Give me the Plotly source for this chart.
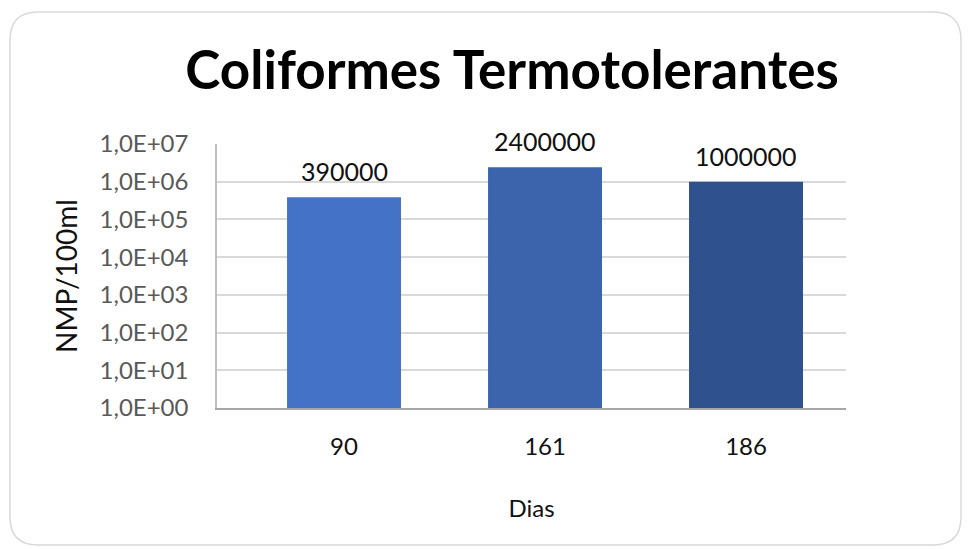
import math
import plotly.graph_objects as go

# ---- data ----
dias = ["90", "161", "186"]
nmp = [390000, 2400000, 1000000]
bar_colors = ["#4472C4", "#3B64AD", "#2F528F"]
y_tickvals = [1, 10, 100, 1000, 10000, 100000, 1000000, 10000000]
y_ticktext = ["1,0E+00", "1,0E+01", "1,0E+02", "1,0E+03",
              "1,0E+04", "1,0E+05", "1,0E+06", "1,0E+07"]

W, H = 968, 549
ML, MR, MT, MB = 217, 122, 144, 141
FONT = "Lato"

fig = go.Figure()
fig.add_trace(go.Bar(
    x=list(range(len(dias))), y=nmp,
    marker=dict(color=bar_colors, line=dict(width=0)),
    width=0.567,
    hoverinfo="skip",
))

# data labels above bars
annotations = [
    dict(x=i, y=math.log10(v), xref="x", yref="y", text=str(v),
         showarrow=False, yanchor="middle", yshift=26,
         font=dict(family=FONT, size=25, color="#111111"))
    for i, v in enumerate(nmp)
]

# rounded card border (pixel -> paper coords)
pw, ph = W - ML - MR, H - MT - MB
def px(x): return (x - ML) / pw
def py(y): return (H - MB - y) / ph
x0, x1, y0, y1, r = 10, 961, 12, 545, 28
path = (f"M {px(x0+r)},{py(y0)} L {px(x1-r)},{py(y0)} "
        f"Q {px(x1)},{py(y0)} {px(x1)},{py(y0+r)} "
        f"L {px(x1)},{py(y1-r)} Q {px(x1)},{py(y1)} {px(x1-r)},{py(y1)} "
        f"L {px(x0+r)},{py(y1)} Q {px(x0)},{py(y1)} {px(x0)},{py(y1-r)} "
        f"L {px(x0)},{py(y0+r)} Q {px(x0)},{py(y0)} {px(x0+r)},{py(y0)} Z")

fig.update_layout(
    width=W, height=H,
    margin=dict(l=ML, r=MR, t=MT, b=MB),
    paper_bgcolor="white", plot_bgcolor="white",
    showlegend=False,
    annotations=annotations,
    title=dict(text="<b>Coliformes Termotolerantes</b>", x=0.529, xanchor="center",
               y=0.872, yanchor="middle",
               font=dict(family=FONT, size=53, color="#000000")),
    shapes=[dict(type="path", path=path, xref="paper", yref="paper",
                 line=dict(color="#D9D9D9", width=1.5), layer="below")],
    xaxis=dict(
        tickmode="array", tickvals=list(range(len(dias))), ticktext=dias,
        range=[-0.632, 2.4975], showgrid=False, zeroline=False,
        showline=True, linecolor="#A6A6A6", linewidth=1.5,
        ticks="", ticklabelstandoff=16,
        tickfont=dict(family=FONT, size=24, color="#111111"),
        title=dict(text="Dias", standoff=42,
                   font=dict(family=FONT, size=24, color="#111111")),
    ),
    yaxis=dict(
        type="log", range=[0, 7],
        tickmode="array", tickvals=y_tickvals, ticktext=y_ticktext,
        showgrid=True, gridcolor="#D9D9D9", gridwidth=1.5,
        zeroline=False, showline=True, linecolor="#BFBFBF", linewidth=1.5,
        ticks="", ticklabelstandoff=22,
        tickfont=dict(family=FONT, size=24, color="#595959"),
        title=dict(text="NMP/100ml", standoff=14,
                   font=dict(family=FONT, size=28, color="#111111")),
    ),
)

fig.write_html("out.html", config={"displayModeBar": False},
               post_script="document.body.style.margin='0';document.body.style.overflow='hidden';")
